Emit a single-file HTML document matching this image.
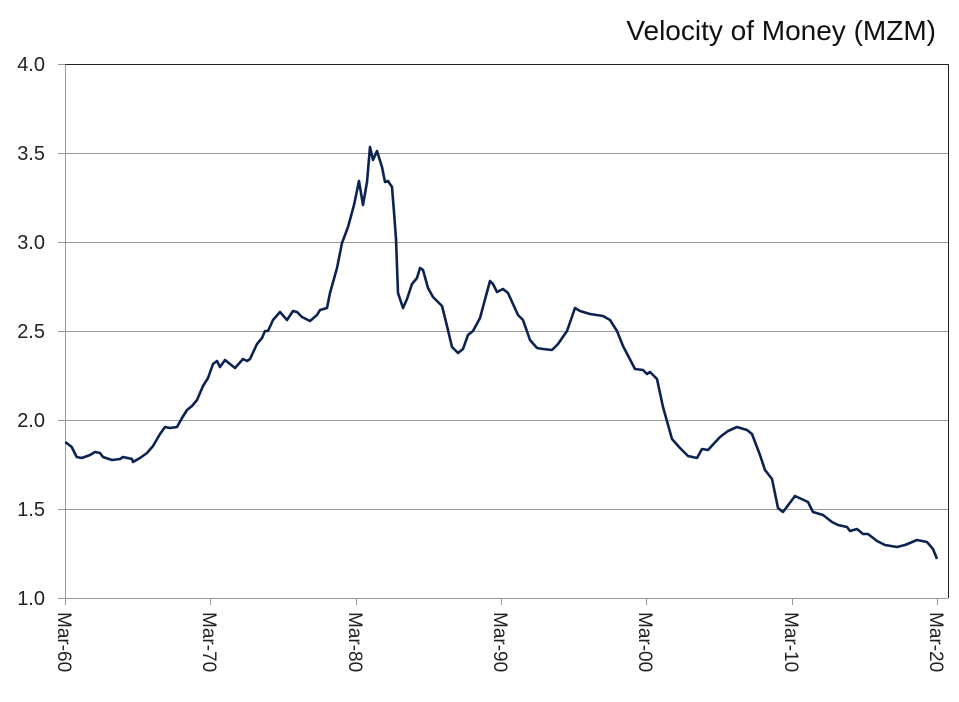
<!DOCTYPE html>
<html><head><style>body{margin:0;background:#fff}svg{display:block}</style></head><body>
<svg width="959" height="702" xmlns="http://www.w3.org/2000/svg" font-family="Liberation Sans, DejaVu Sans, sans-serif">
<rect width="959" height="702" fill="#fff"/>
<text x="936" y="40" font-size="28" text-anchor="end" fill="#111">Velocity of Money (MZM)</text>
<g stroke="#999" stroke-width="1">
<line x1="58" y1="153.5" x2="948" y2="153.5"/>
<line x1="58" y1="242.5" x2="948" y2="242.5"/>
<line x1="58" y1="331.5" x2="948" y2="331.5"/>
<line x1="58" y1="420.5" x2="948" y2="420.5"/>
<line x1="58" y1="509.5" x2="948" y2="509.5"/>
<line x1="58" y1="598.5" x2="948" y2="598.5"/>
<line x1="58" y1="64.5" x2="65" y2="64.5"/>
<line x1="65.5" y1="64" x2="65.5" y2="598"/>
<line x1="65.5" y1="598" x2="65.5" y2="605"/>
<line x1="210.5" y1="598" x2="210.5" y2="605"/>
<line x1="356.5" y1="598" x2="356.5" y2="605"/>
<line x1="501.5" y1="598" x2="501.5" y2="605"/>
<line x1="646.5" y1="598" x2="646.5" y2="605"/>
<line x1="792.5" y1="598" x2="792.5" y2="605"/>
<line x1="937.5" y1="598" x2="937.5" y2="605"/>
</g>
<g stroke="#222" stroke-width="1" fill="none">
<polyline points="65.5,64.5 948.5,64.5 948.5,598"/>
</g>
<g font-size="20" fill="#222" text-anchor="end">
<text x="45" y="71">4.0</text>
<text x="45" y="160">3.5</text>
<text x="45" y="249">3.0</text>
<text x="45" y="338">2.5</text>
<text x="45" y="427">2.0</text>
<text x="45" y="516">1.5</text>
<text x="45" y="605">1.0</text>
</g>
<g font-size="19" fill="#222">
<text transform="translate(58,612) rotate(90)">Mar-60</text>
<text transform="translate(203,612) rotate(90)">Mar-70</text>
<text transform="translate(349,612) rotate(90)">Mar-80</text>
<text transform="translate(494,612) rotate(90)">Mar-90</text>
<text transform="translate(639,612) rotate(90)">Mar-00</text>
<text transform="translate(785,612) rotate(90)">Mar-10</text>
<text transform="translate(930,612) rotate(90)">Mar-20</text>
</g>
<polyline fill="none" stroke="#0c2350" stroke-width="2.6" stroke-linejoin="round" points="65.3,442 71.7,447 76.7,457 81.7,458 90,455 95,452 100,453 103,457 112,460 120,459 123,457 132,459 133,462 140,458 147,453 153,446 160,434 165,427 170,428 177,427 182,418 187,410 192,406 197,400 203,386 208,378 213,364 217,361 220,367 225,360 235,368 243,359 247,361 250,359 257,344 262,338 265,331 268,331 273,320 280,312 287,320 293,311 297,312 302,317 310,321 317,315 320,310 327,308 330,293 337,268 342,243 348,227 354,205 359,181 363,205 367,182 370,147 373,160 377,151 382,167 385,182 388,181 392,187 394,212 396,239 398,293 403,308 407,299 412,284 417,278 420,268 423,270 428,288 433,297 442,306 447,326 452,347 458,353 463,349 468,335 473,331 480,318 490,281 493,284 497,292 503,289 508,293 518,315 523,320 530,340 537,348 543,349 552,350 558,344 567,331 575,308 580,311 590,314 603,316 610,320 617,331 623,346 635,369 643,370 647,374 650,372 657,379 663,407 672,439 680,448 688,456 697,458 702,449 708,450 720,437 728,431 737,427 747,430 752,434 760,455 765,470 772,479 778,508 783,512 795,496 808,502 813,512 823,515 832,522 838,525 847,527 850,531 857,529 863,534 868,534 877,541 885,545 897,547 905,545 917,540 927,542 933,549 937,559"/>
</svg>
</body></html>
